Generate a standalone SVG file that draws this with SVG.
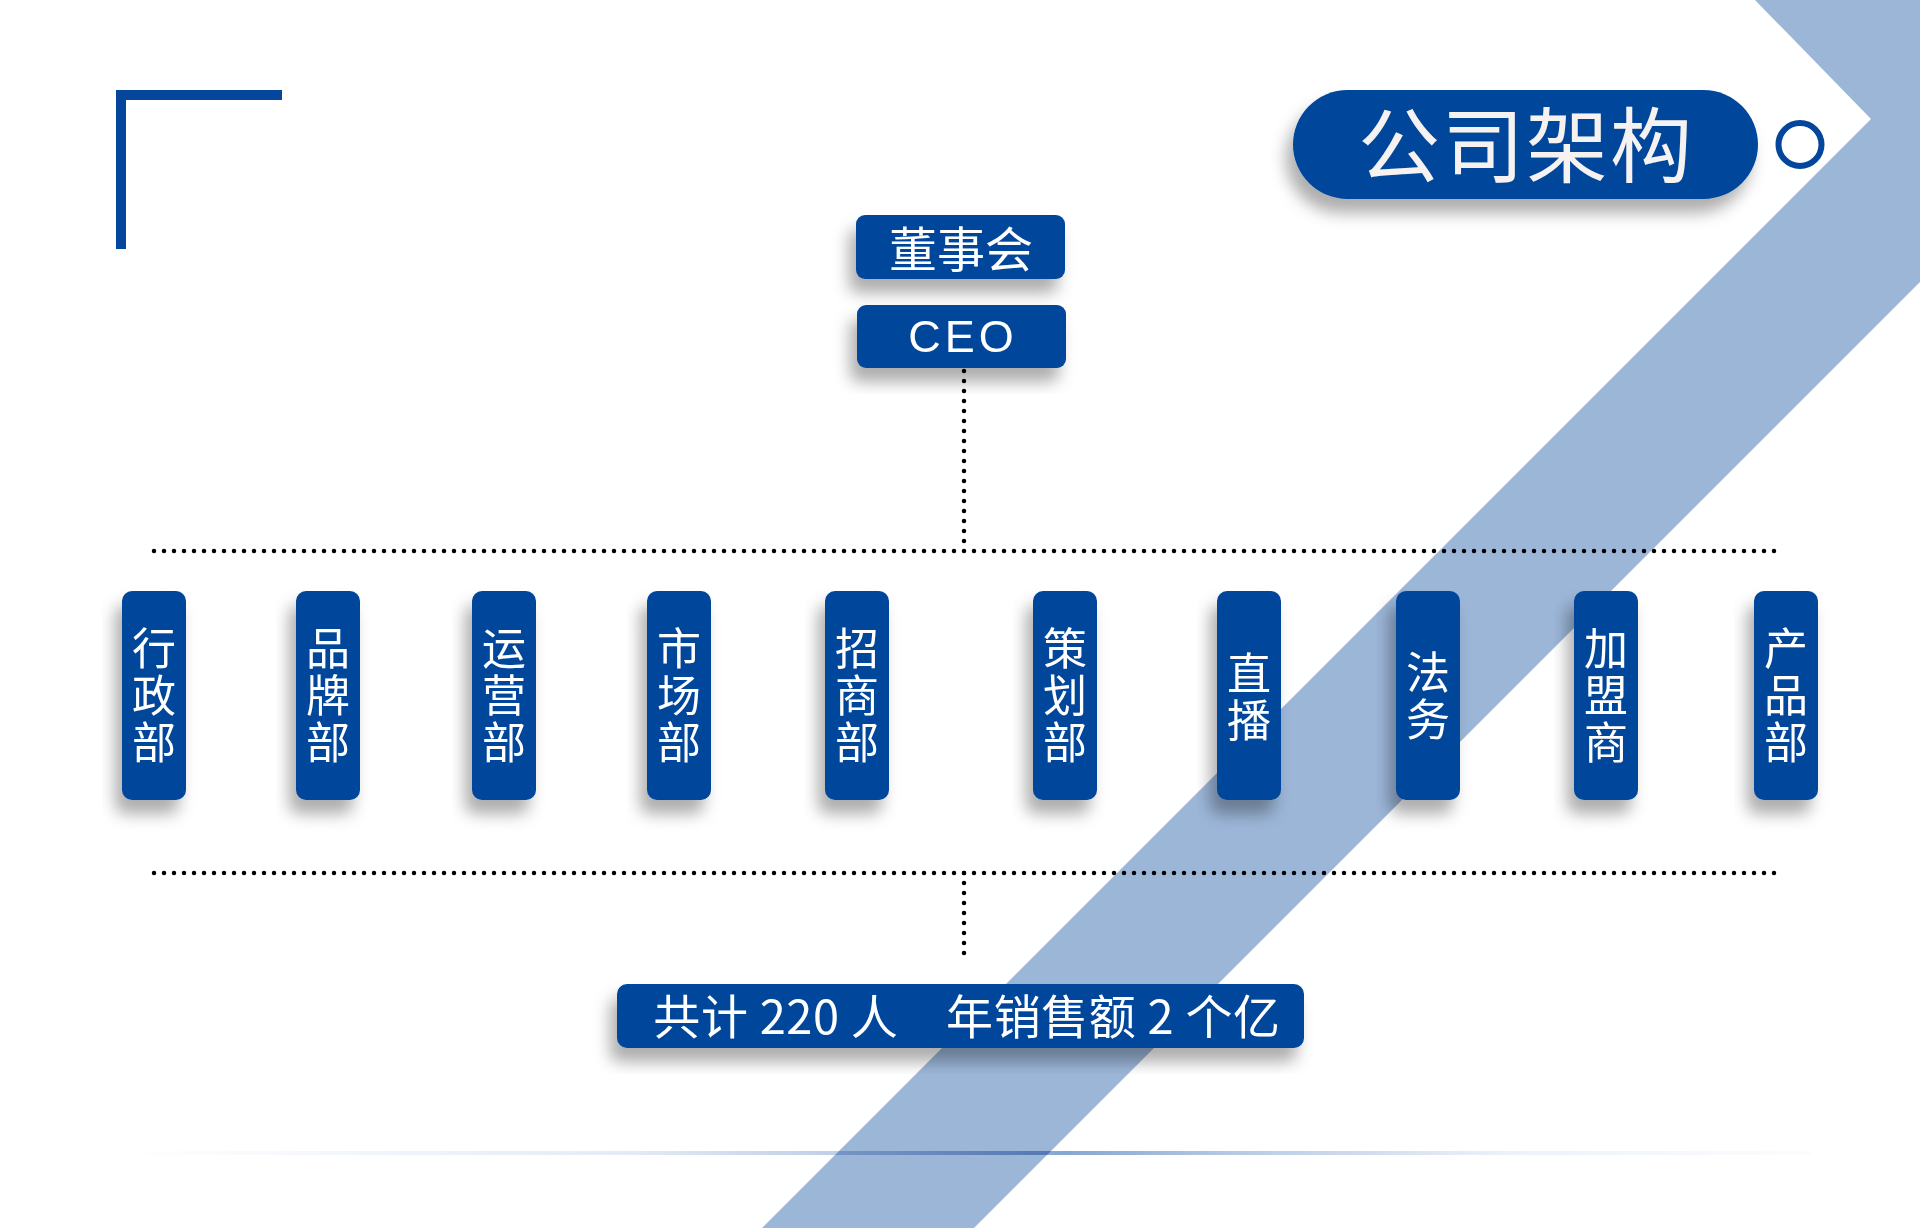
<svg xmlns="http://www.w3.org/2000/svg" width="1920" height="1228" viewBox="0 0 1920 1228">
<defs>
<filter id="sh" x="-30%" y="-30%" width="160%" height="170%">
<feGaussianBlur in="SourceAlpha" stdDeviation="8"/>
<feOffset dx="-7" dy="14" result="b"/>
<feFlood flood-color="#000" flood-opacity="0.32"/>
<feComposite in2="b" operator="in"/>
<feMerge><feMergeNode/><feMergeNode in="SourceGraphic"/></feMerge>
</filter>
<linearGradient id="lg" gradientUnits="userSpaceOnUse" x1="116" y1="0" x2="1811" y2="0">
<stop offset="0" stop-color="#86a6d2" stop-opacity="0"/>
<stop offset="0.3" stop-color="#86a6d2" stop-opacity="0.22"/>
<stop offset="0.45" stop-color="#86a6d2" stop-opacity="0.6"/>
<stop offset="0.56" stop-color="#86a6d2" stop-opacity="1"/>
<stop offset="0.66" stop-color="#86a6d2" stop-opacity="0.6"/>
<stop offset="0.82" stop-color="#86a6d2" stop-opacity="0.15"/>
<stop offset="1" stop-color="#86a6d2" stop-opacity="0.03"/>
</linearGradient>
<style>
.box{fill:#04469b}
.cjk{font-family:"Noto Sans CJK SC","Noto Sans CJK JP",sans-serif;fill:#ffffff}
.v{font-size:44px;text-anchor:middle;writing-mode:vertical-rl;letter-spacing:3px}
.dot{fill:none;stroke:#000;stroke-width:4.5;stroke-linecap:round;stroke-dasharray:0 10}
</style>
</defs>
<rect width="1920" height="1228" fill="#ffffff"/>
<g id="decor">
<polygon points="1755,0 1920,0 1920,282 974,1228 762,1228 1871,119" fill="#9cb6d8"/>
<line x1="116" y1="1153" x2="1811" y2="1153" stroke="url(#lg)" stroke-width="4" style="mix-blend-mode:multiply"/>
<path d="M116 90 H282 V100 H126 V249 H116 Z" fill="#04469b"/>
</g>
<g id="connectors">
<path class="dot" d="M964 371 V551"/>
<path class="dot" d="M154 551 H1784"/>
<path class="dot" d="M154 873 H1784"/>
<path class="dot" d="M964 873 V963"/>
</g>
<g id="node-title">
<rect class="box" x="1293" y="90" width="465" height="109" rx="54.5" filter="url(#sh)"/>
<text class="cjk" x="1526" y="176" font-size="82" letter-spacing="2" text-anchor="middle" style="fill:#f6f2f2">公司架构</text>
<circle cx="1800" cy="144.5" r="21.5" fill="none" stroke="#04469b" stroke-width="6"/>
</g>
<g id="node-board">
<rect class="box" x="856" y="215" width="209" height="64" rx="9" filter="url(#sh)"/>
<text class="cjk" x="961" y="267" font-size="48" text-anchor="middle">董事会</text>
</g>
<g id="node-ceo">
<rect class="box" x="857" y="305" width="209" height="63" rx="9" filter="url(#sh)"/>
<text x="963" y="352" font-family="'Liberation Sans',Arial,sans-serif" font-size="45" letter-spacing="4" text-anchor="middle" fill="#ffffff">CEO</text>
</g>
<g id="node-d1">
<rect class="box" x="122" y="591" width="64" height="209" rx="10" filter="url(#sh)"/>
<text class="cjk v" x="154" y="697">行政部</text>
</g>
<g id="node-d2">
<rect class="box" x="296" y="591" width="64" height="209" rx="10" filter="url(#sh)"/>
<text class="cjk v" x="328" y="697">品牌部</text>
</g>
<g id="node-d3">
<rect class="box" x="472" y="591" width="64" height="209" rx="10" filter="url(#sh)"/>
<text class="cjk v" x="504" y="697">运营部</text>
</g>
<g id="node-d4">
<rect class="box" x="647" y="591" width="64" height="209" rx="10" filter="url(#sh)"/>
<text class="cjk v" x="679" y="697">市场部</text>
</g>
<g id="node-d5">
<rect class="box" x="825" y="591" width="64" height="209" rx="10" filter="url(#sh)"/>
<text class="cjk v" x="857" y="697">招商部</text>
</g>
<g id="node-d6">
<rect class="box" x="1033" y="591" width="64" height="209" rx="10" filter="url(#sh)"/>
<text class="cjk v" x="1065" y="697">策划部</text>
</g>
<g id="node-d7">
<rect class="box" x="1217" y="591" width="64" height="209" rx="10" filter="url(#sh)"/>
<text class="cjk v" x="1249" y="698">直播</text>
</g>
<g id="node-d8">
<rect class="box" x="1396" y="591" width="64" height="209" rx="10" filter="url(#sh)"/>
<text class="cjk v" x="1428" y="697">法务</text>
</g>
<g id="node-d9">
<rect class="box" x="1574" y="591" width="64" height="209" rx="10" filter="url(#sh)"/>
<text class="cjk v" x="1606" y="697">加盟商</text>
</g>
<g id="node-d10">
<rect class="box" x="1754" y="591" width="64" height="209" rx="10" filter="url(#sh)"/>
<text class="cjk v" x="1786" y="697">产品部</text>
</g>
<g id="node-summary">
<rect class="box" x="617" y="984" width="687" height="64" rx="10" filter="url(#sh)"/>
<text class="cjk" x="967" y="1034" font-size="47" letter-spacing="0.6" text-anchor="middle">共计 220 人　年销售额 2 个亿</text>
</g>
</svg>
